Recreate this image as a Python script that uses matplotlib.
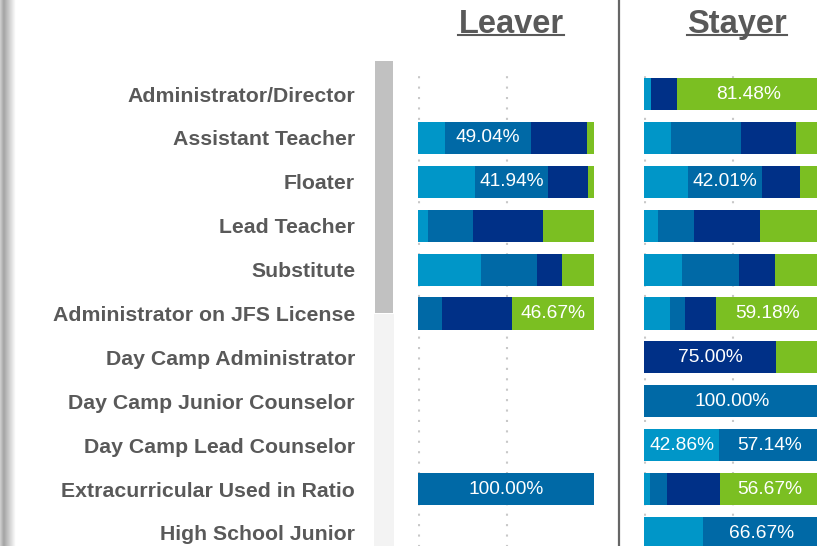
import numpy as np
import matplotlib
matplotlib.use("Agg")
import matplotlib.pyplot as plt
from matplotlib.patches import Rectangle
from matplotlib.lines import Line2D

# ================= DATA =================
roles = ["Administrator/Director", "Assistant Teacher", "Floater", "Lead Teacher",
         "Substitute", "Administrator on JFS License", "Day Camp Administrator",
         "Day Camp Junior Counselor", "Day Camp Lead Counselor",
         "Extracurricular Used in Ratio", "High School Junior"]

# percent share of each row, four stacked segments
leaver_light = [0, 15.3, 32.2, 5.7, 35.8, 0, 0, 0, 0, 0, 0]
leaver_medium = [0, 49.04, 41.94, 25.6, 31.8, 13.53, 0, 0, 0, 100.0, 0]
leaver_dark = [0, 31.7, 22.5, 39.7, 14.2, 39.8, 0, 0, 0, 0, 0]
leaver_green = [0, 3.96, 3.36, 29.0, 18.2, 46.67, 0, 0, 0, 0, 0]

stayer_light = [3.7, 15.3, 25.0, 8.0, 21.6, 14.9, 0, 0, 42.86, 3.4, 33.33]
stayer_medium = [0, 39.8, 42.01, 20.5, 32.4, 8.2, 0, 100.0, 57.14, 9.7, 66.67]
stayer_dark = [14.82, 31.3, 21.6, 37.5, 20.5, 17.72, 75.0, 0, 0, 30.23, 0]
stayer_green = [81.48, 13.6, 11.39, 34.0, 25.5, 59.18, 25.0, 0, 0, 56.67, 0]

panel_titles = ["Leaver", "Stayer"]

# ================= STYLE =================
W, H = 817, 546
colors = ["#0096C8", "#0069A6", "#003087", "#7BBF22"]
text_grey = "#595959"
plt.rcParams["font.family"] = ["Liberation Sans", "DejaVu Sans"]

fig = plt.figure(figsize=(W / 100, H / 100), dpi=100)
fig.patch.set_facecolor("white")


def px_box(x0, y0, x1, y1):
    # pixel box (top-left origin) -> figure fraction [l, b, w, h]
    return [x0 / W, 1 - y1 / H, (x1 - x0) / W, (y1 - y0) / H]


# left edge shading of the page
ax_edge = fig.add_axes(px_box(0, 0, 16, H))
shade = np.concatenate([np.linspace(0.80, 0.66, 4), np.linspace(0.66, 0.99, 12)])
ax_edge.imshow(shade[None, :], cmap="gray", vmin=0, vmax=1, aspect="auto")
ax_edge.axis("off")

# scrollbar
fig.add_artist(Rectangle((374 / W, 0), 20 / W, 1 - 314 / H, transform=fig.transFigure,
                         facecolor="#F3F3F3", edgecolor="none"))
fig.add_artist(Rectangle((375 / W, 1 - 313 / H), 18 / W, (313 - 61) / H,
                         transform=fig.transFigure, facecolor="#C1C1C1", edgecolor="none"))

# separator between panels
fig.add_artist(Line2D([619 / W, 619 / W], [0, 1], transform=fig.transFigure,
                      color="#666666", lw=1.6))

row_h = 43.9
top = 94 - row_h / 2
bottom = top + row_h * len(roles)
y = np.arange(len(roles))

panels = [
    (418, [leaver_light, leaver_medium, leaver_dark, leaver_green]),
    (644, [stayer_light, stayer_medium, stayer_dark, stayer_green]),
]

for k, (x0, series) in enumerate(panels):
    ax = fig.add_axes(px_box(x0, top, x0 + 176, bottom))
    ax.set_xlim(0, 100)
    ax.set_ylim(len(roles) - 0.5, -0.5)
    for xv in (0.6, 50.6):
        ax.axvline(xv, color="#C8C8C8", lw=1.5, ls=(0, (1, 4)), zorder=0)
    left = np.zeros(len(roles))
    for vals, c in zip(series, colors):
        vals = np.array(vals, dtype=float)
        ax.barh(y, vals, left=left, height=0.73, color=c, edgecolor="none", zorder=2)
        for i, v in enumerate(vals):
            if v >= 40:
                ax.text(left[i] + v / 2, i, f"{v:.2f}%", ha="center", va="center",
                        color="white", fontsize=13.8, zorder=3)
        left += vals
    for s in ax.spines.values():
        s.set_visible(False)
    ax.set_xticks([])
    if k == 0:
        ax.set_yticks(y)
        ax.set_yticklabels(roles, fontsize=15.35, fontweight="bold", color=text_grey)
        ax.tick_params(axis="y", length=0, pad=45.3)
    else:
        ax.set_yticks([])

    # panel heading, underlined
    fig.text((x0 + 93) / W, 1 - 33 / H, panel_titles[k], ha="center", va="baseline",
             fontsize=23.5, fontweight="bold", color=text_grey)

fig.canvas.draw()
for t in fig.texts:
    bb = t.get_window_extent()
    fig.add_artist(Line2D([bb.x0 / W, bb.x1 / W], [1 - 35 / H, 1 - 35 / H],
                          transform=fig.transFigure, color=text_grey, lw=1.5))

fig.savefig("out.png", dpi=100)
